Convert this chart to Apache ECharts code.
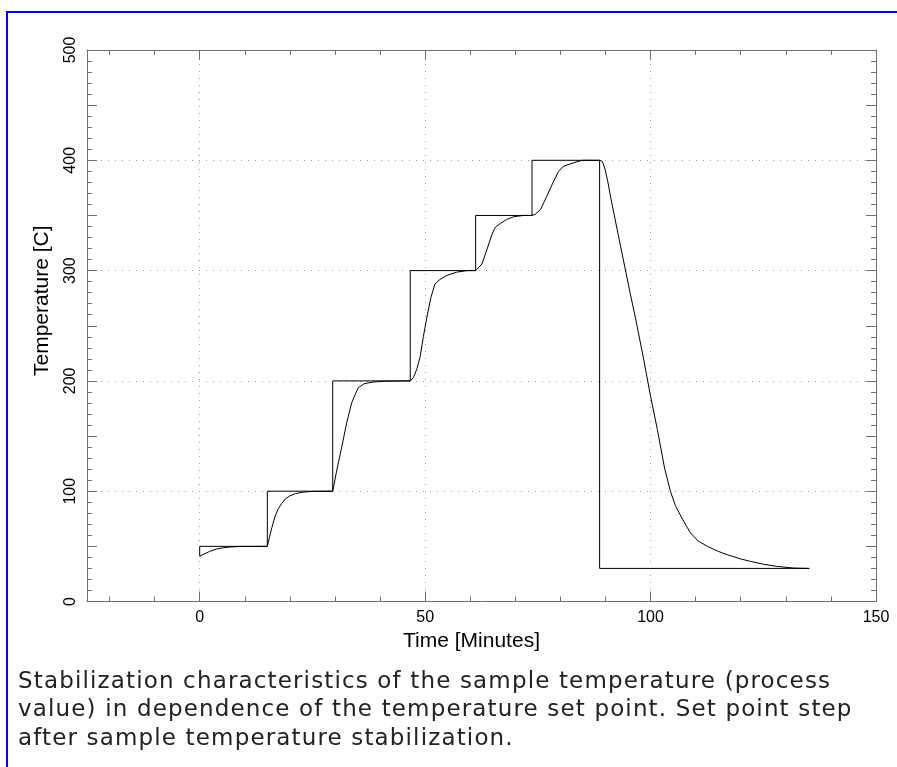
<!DOCTYPE html>
<html>
  <head>
    <meta http-equiv="Content-Type" content="text/html; charset=utf-8" />
    <title>Temperature stabilization</title>
    <script src="https://cdn.jsdelivr.net/npm/echarts@6/dist/echarts.min.js"></script>
    <style>
      html,
      body {
        margin: 0;
        padding: 0;
        background: #ffffff;
      }
      #frame {
        position: absolute;
        left: 6px;
        top: 11px;
        width: 920px;
        height: 800px;
        border-left: 2px solid #0000ff;
        border-top: 2px solid #0000ff;
      }
      #chartView {
        position: absolute;
        left: 0;
        top: 0;
        width: 897px;
        height: 767px;
      }
      .caption {
        position: absolute;
        left: 18px;
        top: 666px;
        font-family: "DejaVu Sans", sans-serif;
        font-size: 23px;
        line-height: 28.4px;
        letter-spacing: 1.15px;
        color: #222222;
        white-space: nowrap;
      }
    </style>
  </head>

  <body>
    <div id="frame"></div>
    <div id="chartView"></div>
    <div class="caption">
      Stabilization characteristics of the sample temperature (process<br />
      value) in dependence of the temperature set point. Set point step<br />
      after sample temperature stabilization.
    </div>

    <script type="text/javascript">
      // 轴刻度
      var xMajorTicks = [0, 50, 100, 150];
      var xMinorTicks = [-20, -10, 10, 20, 30, 40, 60, 70, 80, 90, 110, 120, 130, 140];

      // 设定值 (set point)
      var setTime = [0, 0, 15, 15, 29.5, 29.5, 46.7, 46.7, 61.2, 61.2, 73.7, 73.7, 88.7, 88.7, 135.2];
      var setTemp = [41, 50, 50, 100, 100, 200, 200, 300, 300, 350, 350, 400, 400, 30, 30];

      // 样品温度 (process value)
      var pvTime = [
        0, 0.7, 1.5, 2.2, 3.7, 5, 6.7, 9, 15,
        15.4, 16, 16.7, 17.4, 18.2, 19, 20, 21.2, 23, 25, 29.5,
        30.4, 31.5, 32.6, 33.7, 34.4, 35.2, 36.5, 38.5, 41, 46.7,
        47.4, 48.1, 48.9, 49.6, 50.4, 51.3, 52.2, 53.3, 54.8, 57, 59.3, 61.2,
        61.5, 62.6, 63.7, 64.8, 65.6, 66.7, 68.1, 69.6, 71.8, 73.7,
        74.4, 75.6, 77, 78.5, 79.6, 80.7, 83, 84.8, 88.7,
        89.3, 89.9, 90.5, 91.1, 92.6, 94.1, 95.5, 96.7, 98.5, 100, 101.5, 103.1,
        104.4, 105.5, 106.7, 108, 108.9, 110.5, 112.6, 115, 117, 120, 122.2, 125, 128.1, 131.8, 135.2,
      ];
      var pvTemp = [
        41, 42.5, 44, 45.4, 47.5, 48.6, 49.4, 49.9, 50,
        57, 67, 77, 84, 89, 93, 95.8, 97.8, 99.2, 99.8, 100,
        119, 140, 162, 180, 187, 194, 197.5, 199, 199.7, 200,
        203, 210, 222, 240, 258, 276, 288, 292, 295.6, 298.6, 300, 300,
        301, 306, 319, 332.7, 339.5, 342.7, 346.4, 348.8, 350, 350,
        351, 355.5, 367.5, 381, 390, 394.7, 397.8, 400, 400,
        399, 392, 381, 367.5, 337, 307, 279, 256, 219, 186, 156, 121,
        100, 87, 77.5, 68, 62, 55, 50, 45.5, 42.4, 38.6, 36.3, 33.8, 31.8, 30.3, 30,
      ];

      function zip(a, b) {
        var arr = [];
        for (var i = 0; i < a.length; i++) {
          arr.push([a[i], b[i]]);
        }
        return arr;
      }

      var frameColor = "#707070";
      var gridColor = "#a0a0a0";
      var fontName = "'Liberation Sans', Arial, sans-serif";

      // 附加刻度轴（只画刻度）
      function tickAxis(type, position, extra) {
        var axis = {
          type: "value",
          position: position,
          axisLine: { show: false, onZero: false, lineStyle: { color: frameColor } },
          axisTick: { show: true, inside: true, length: 5, lineStyle: { color: frameColor } },
          axisLabel: { show: false },
          splitLine: { show: false },
        };
        if (type === "x") {
          axis.min = -25;
          axis.max = 150;
        } else {
          axis.min = 0;
          axis.max = 500;
        }
        for (var k in extra) {
          axis[k] = extra[k];
        }
        return axis;
      }

      var myChart = echarts.init(document.getElementById("chartView"), null, { renderer: "canvas" });

      var option = {
        animation: false,
        backgroundColor: "transparent",
        grid: { left: 87, top: 50, width: 789, height: 551.5, containLabel: false },
        xAxis: [
          {
            type: "value",
            position: "bottom",
            min: -25,
            max: 150,
            name: "Time [Minutes]",
            nameLocation: "middle",
            nameGap: 28,
            nameTextStyle: { fontFamily: fontName, fontSize: 21, color: "#000", padding: [0, 20, 0, 0] },
            axisLine: { show: true, onZero: false, lineStyle: { color: frameColor, width: 1 } },
            axisTick: { show: true, inside: true, length: 10, customValues: xMajorTicks, lineStyle: { color: frameColor } },
            axisLabel: { customValues: xMajorTicks, fontFamily: fontName, fontSize: 16, color: "#000", margin: 8 },
            splitLine: { show: true, lineStyle: { color: gridColor, type: [1, 6], width: 1 } },
          },
          tickAxis("x", "bottom", {
            axisTick: { show: true, inside: true, length: 5, customValues: xMinorTicks, lineStyle: { color: frameColor } },
          }),
          tickAxis("x", "top", {
            axisLine: { show: true, onZero: false, lineStyle: { color: frameColor, width: 1 } },
            axisTick: { show: true, inside: true, length: 10, customValues: xMajorTicks, lineStyle: { color: frameColor } },
          }),
          tickAxis("x", "top", {
            axisTick: { show: true, inside: true, length: 5, customValues: xMinorTicks, lineStyle: { color: frameColor } },
          }),
        ],
        yAxis: [
          {
            type: "value",
            position: "left",
            min: 0,
            max: 500,
            interval: 100,
            name: "Temperature [C]",
            nameLocation: "middle",
            nameGap: 34,
            nameTextStyle: { fontFamily: fontName, fontSize: 21, color: "#000", padding: [0, 0, 0, 50] },
            axisLine: { show: true, onZero: false, lineStyle: { color: frameColor, width: 1 } },
            axisTick: { show: true, inside: true, length: 10, lineStyle: { color: frameColor } },
            minorTick: { show: true, splitNumber: 10, length: 5, lineStyle: { color: frameColor } },
            axisLabel: { rotate: 90, fontFamily: fontName, fontSize: 16, color: "#000", margin: 8 },
            splitLine: { show: true, lineStyle: { color: gridColor, type: [1, 6], width: 1 } },
          },
          tickAxis("y", "left", {
            interval: 50,
            axisTick: { show: true, inside: true, length: 10, lineStyle: { color: frameColor } },
          }),
          tickAxis("y", "right", {
            interval: 50,
            axisLine: { show: true, onZero: false, lineStyle: { color: frameColor, width: 1 } },
            axisTick: { show: true, inside: true, length: 10, lineStyle: { color: frameColor } },
            minorTick: { show: true, splitNumber: 5, length: 5, lineStyle: { color: frameColor } },
          }),
        ],
        series: [
          {
            name: "Set point",
            type: "line",
            xAxisIndex: 0,
            yAxisIndex: 0,
            symbol: "none",
            lineStyle: { color: "#000", width: 1 },
            data: zip(setTime, setTemp),
          },
          {
            name: "Process value",
            type: "line",
            xAxisIndex: 0,
            yAxisIndex: 0,
            symbol: "none",
            smooth: false,
            lineStyle: { color: "#000", width: 1 },
            data: zip(pvTime, pvTemp),
          },
        ],
      };

      myChart.setOption(option);
    </script>
  </body>
</html>
